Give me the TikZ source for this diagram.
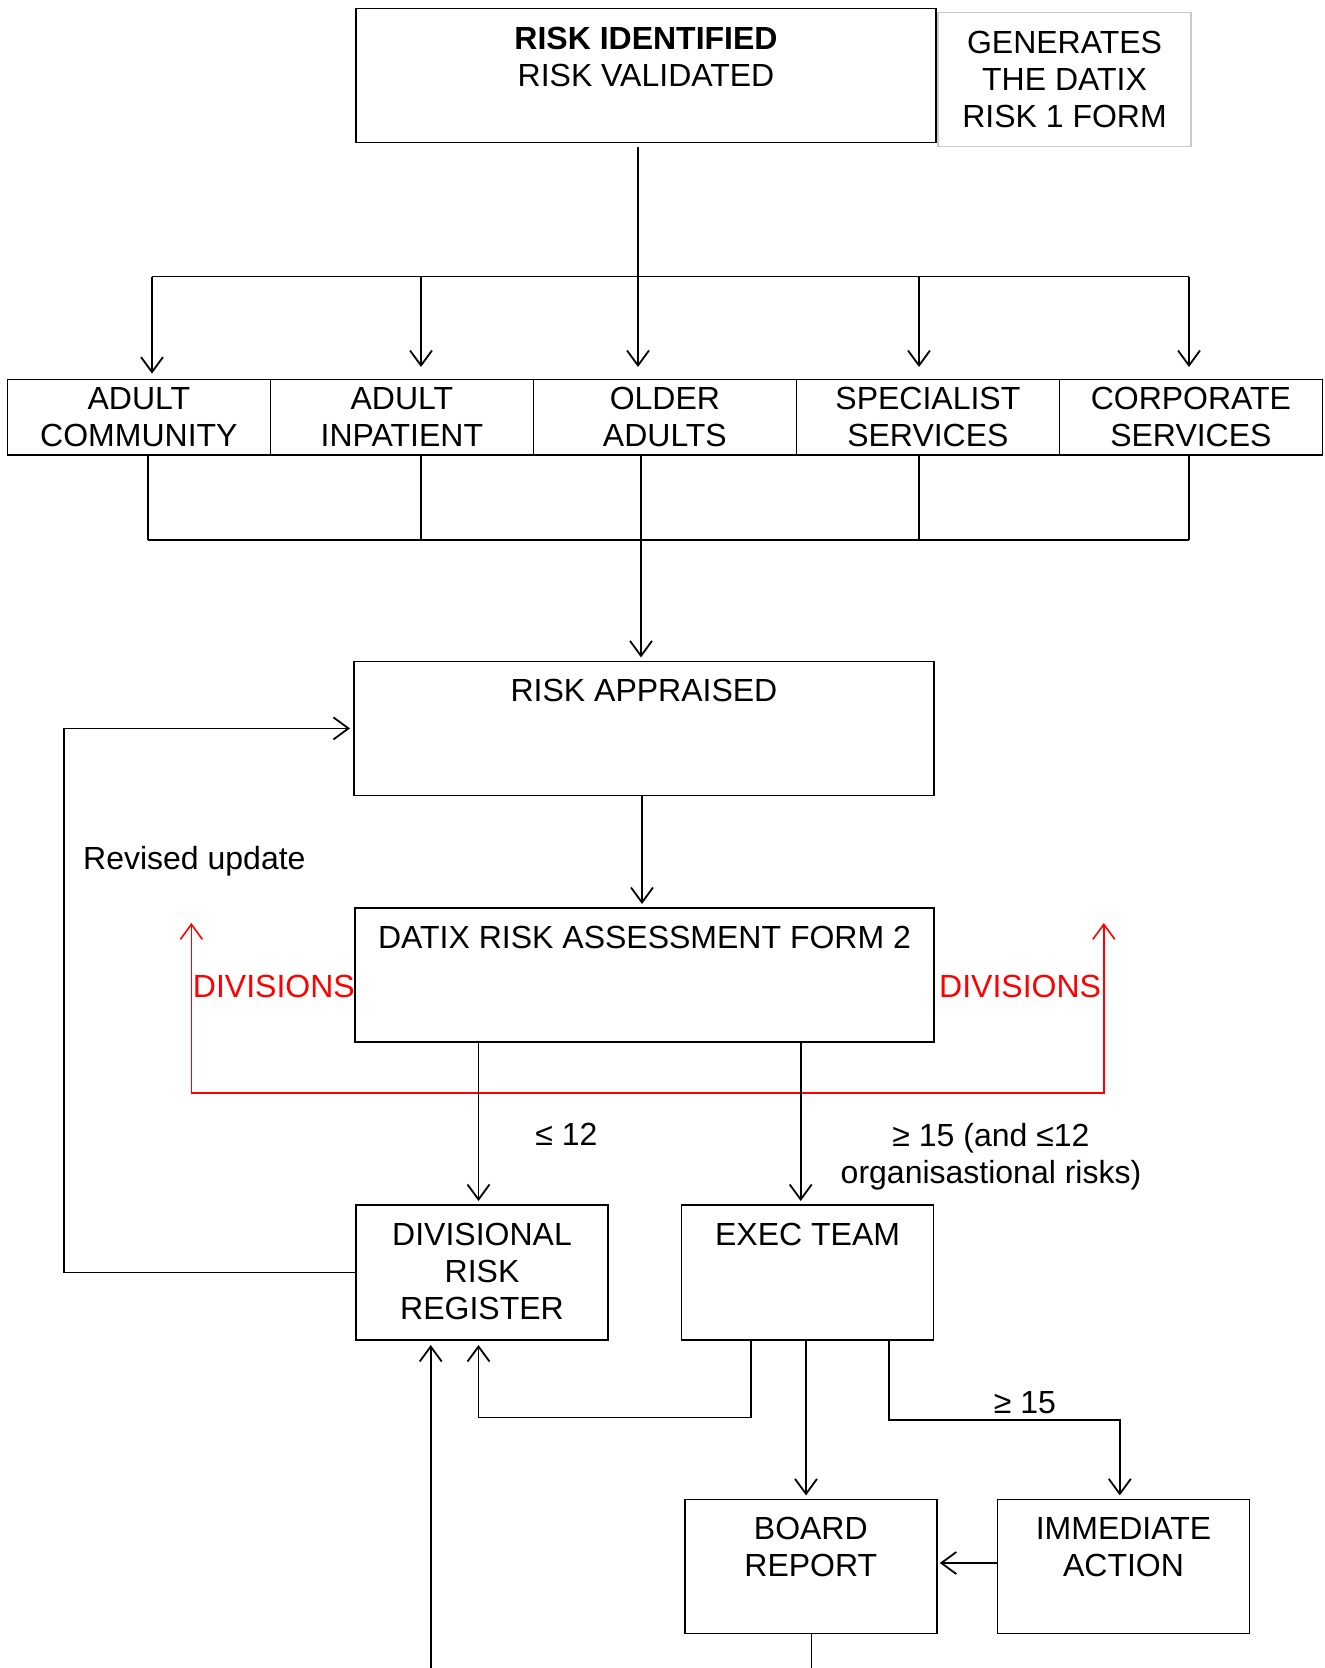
\documentclass[tikz,border=0pt]{standalone}
\usepackage{fontspec}
\setmainfont{Liberation Sans}
\usepackage{xcolor}
\definecolor{divred}{RGB}{255, 0, 0}
\definecolor{formgrey}{RGB}{200, 200, 200}
\usepackage{tikz}
\usetikzlibrary{arrows.meta, positioning}
\newcommand{\chartfont}{\fontsize{32}{37}\selectfont}

\tikzset{
    stage/.style={draw, line width=1.5pt, inner sep=0pt, outer sep=0pt, anchor=north west, font=\chartfont},
    division/.style={stage, anchor=west, minimum width=263pt, minimum height=75.4pt, align=center},
    caption/.style={anchor=north, yshift=-18pt, inner sep=0pt, align=center, font=\chartfont},
    link/.style={draw, line width=1.8pt},
    flow/.style={link, -{Straight Barb[length=15pt,width=22pt]}, shorten >=4pt},
    redflow/.style={draw, divred, line width=1.6pt, {Straight Barb[length=15pt,width=22pt]}-{Straight Barb[length=15pt,width=22pt]}},
    note/.style={inner sep=0pt, font=\chartfont}
}

\begin{document}
\begin{tikzpicture}[x=1pt, y=-1pt]
    \useasboundingbox (0,0) rectangle (1325,1668);

    % top stage
    \node[stage, minimum width=580pt, minimum height=134pt,
          label={[caption]north:\textbf{RISK IDENTIFIED}\\RISK VALIDATED}] (identified) at (356,8.5) {};
    \node[stage, draw=formgrey, line width=1.2pt, minimum width=253pt, minimum height=134pt,
          label={[caption]north:GENERATES\\THE DATIX\\RISK 1 FORM}] (datixone) at (938,12.8) {};

    % divisions row
    \node[division] (adultcom) at (7.4,417.3) {ADULT\\COMMUNITY};
    \node[division, right=0pt of adultcom] (adultinp) {ADULT\\INPATIENT};
    \node[division, right=0pt of adultinp] (olderad) {OLDER\\ADULTS};
    \node[division, right=0pt of olderad] (specserv) {SPECIALIST\\SERVICES};
    \node[division, right=0pt of specserv] (corpserv) {CORPORATE\\SERVICES};

    \coordinate (split) at (638,276.5);
    \coordinate (merge) at (641,540);
    \draw[link] ([yshift=-4pt]identified.south -| split) -- (split);
    \draw[link] (152,276.5) -- (1189,276.5);
    \draw[link] (148,540) -- (1189,540);
    \draw[flow, shorten >=6pt] (152,276.5) -- (152,0 |- adultcom.north);
    \foreach \x/\n in {421/adultinp, 638/olderad, 919/specserv, 1189/corpserv}
        \draw[flow, shorten >=12.6pt] (\x,276.5) -- (\x,0 |- \n.north);
    \foreach \x/\n in {148/adultcom, 421/adultinp, 641/olderad, 919/specserv, 1189/corpserv}
        \draw[link] (\x,0 |- \n.south) -- (\x,540);

    % appraisal and assessment
    \node[stage, minimum width=580pt, minimum height=134pt,
          label={[caption]north:RISK APPRAISED}] (appraised) at (354,661.4) {};
    \node[stage, minimum width=579pt, minimum height=134pt,
          label={[caption]north:DATIX RISK ASSESSMENT FORM 2}] (datixtwo) at (355,908) {};
    \draw[flow] (merge) -- (merge |- appraised.north);
    \draw[flow] (appraised.south -| 642,0) -- (datixtwo.north -| 642,0);

    \draw[redflow] (191.4,923) -- (191.4,1093) -- (1103.8,1093) -- (1103.8,923);
    \node[note, text=divred, anchor=east] (divleft) at (datixtwo.west |- 0,986) {DIVISIONS};
    \node[note, text=divred, anchor=west, xshift=5pt] (divright) at (datixtwo.east |- 0,986) {DIVISIONS};

    % registers
    \node[stage, minimum width=252pt, minimum height=135pt,
          label={[caption]north:DIVISIONAL\\RISK\\REGISTER}] (divreg) at (356,1205) {};
    \node[stage, minimum width=252pt, minimum height=135pt,
          label={[caption]north:EXEC TEAM}] (execteam) at (681.6,1205) {};
    \draw[flow] (478.5,0 |- datixtwo.south) -- (478.5,0 |- divreg.north);
    \draw[flow] (800.7,0 |- datixtwo.south) -- (800.7,0 |- execteam.north);
    \node[note] (lowband) at (566.5,1134.5) {≤ 12};
    \node[note, anchor=north, align=center] (highband) at (991,1123) {≥ 15 (and ≤12\\organisastional risks)};

    \draw[flow] (divreg.west) -| (63.8,728.4) -- (appraised.west |- 0,728.4);
    \node[note, anchor=base west] (revised) at (83,869.5) {Revised update};

    % reporting
    \node[stage, minimum width=252pt, minimum height=134pt,
          label={[caption]north:BOARD\\REPORT}] (board) at (684.8,1499.4) {};
    \node[stage, minimum width=252pt, minimum height=134pt,
          label={[caption]north:IMMEDIATE\\ACTION}] (immediate) at (997.5,1499.4) {};
    \draw[flow, shorten >=5pt] (750.8,0 |- execteam.south) |- (478.5,1417.5) -- (478.5,0 |- divreg.south);
    \draw[flow] (806,0 |- execteam.south) -- (806,0 |- board.north);
    \draw[flow] (889,0 |- execteam.south) |- (1119.8,1419.6) -- (1119.8,0 |- immediate.north);
    \node[note] (topband) at (1025,1402.5) {≥ 15};
    \draw[flow, shorten >=3pt] (immediate.west |- 0,1563) -- (board.east |- 0,1563);

    \coordinate (boardout) at (811.4,1668);
    \coordinate (regin) at (430.7,1668);
    \draw[link] (board.south -| boardout) -- (boardout);
    \draw[flow, shorten >=5pt] (regin) -- (regin |- divreg.south);
\end{tikzpicture}
\end{document}
